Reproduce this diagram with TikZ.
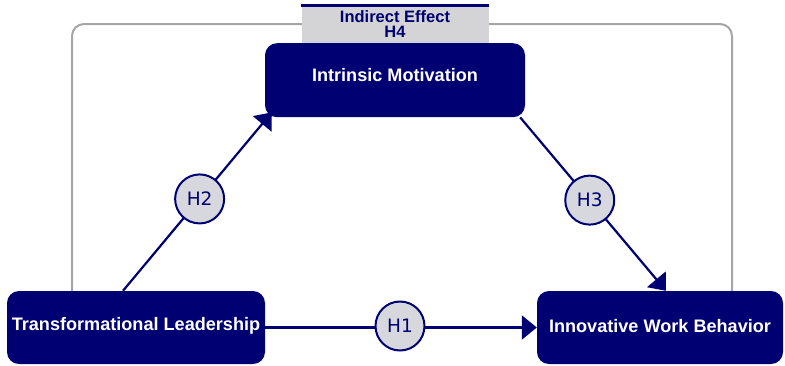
\documentclass[tikz,border=0pt]{standalone}
\usepackage{fontspec}
\setmainfont{Liberation Sans}
\newfontfamily\hypfont{DejaVu Sans}
\usetikzlibrary{arrows.meta,calc}
\definecolor{navy}{RGB}{0,0,115}
\definecolor{framegray}{RGB}{165,165,165}
\definecolor{panelgray}{RGB}{212,212,214}
\definecolor{circlegray}{RGB}{215,215,222}
\begin{document}
\begin{tikzpicture}[x=1pt,y=-1pt,
  construct/.style={draw=none,fill=navy,rounded corners=12pt,text=white,
    font=\fontsize{18.1}{20}\selectfont\bfseries,inner sep=0pt,align=center},
  hyp/.style={circle,draw=navy,line width=2pt,fill=circlegray,text=navy,
    minimum size=49pt,inner sep=0pt,font=\hypfont\fontsize{18.5}{20}\selectfont},
  conn/.style={draw=navy,line width=2.2pt,-{Triangle[length=15pt,width=24pt]}},
  frame/.style={draw=framegray,line width=2pt,rounded corners=12pt}]
\useasboundingbox (0,0) rectangle (785,365);

% constructs
\node[construct,minimum width=258pt,minimum height=73pt] (TL) at (136,327.5) {\raisebox{1.5pt}[\height][\depth]{Transformational Leadership}};
\node[construct,minimum width=246pt,minimum height=73pt] (IWB) at (660,327.5) {\raisebox{1.5pt}[\height][\depth]{Innovative Work Behavior}};
\node[construct,minimum width=260pt,minimum height=74pt,anchor=north] (IM) at (395,43) {\raisebox{5pt}[\height][\depth]{Intrinsic Motivation}};

% indirect effect frame linking the two outer constructs
\coordinate (FL) at ([xshift=-64pt]TL.north);
\coordinate (FR) at ([xshift=72pt]IWB.north);
\draw[frame] (FL) -- (FL |- 0,24) -- (FR |- 0,24) -- (FR);

% indirect effect label
\node[fill=panelgray,minimum width=187pt,minimum height=37pt,inner sep=0pt,anchor=south,
  text=navy,font=\fontsize{16.5}{15}\selectfont\bfseries,align=center] (IE) at (IM.north) {Indirect Effect\\H4};
\draw[navy,line width=2.5pt] (IE.north west) -- (IE.north east);

% paths
\coordinate (a2s) at ([xshift=-13pt]TL.north);
\coordinate (a2e) at ([xshift=7pt,yshift=5pt]IM.south west);
\coordinate (a3s) at ([xshift=-5pt]IM.south east);
\coordinate (a3e) at ([xshift=6pt]IWB.north);
\draw[conn] (a2s) -- (a2e);
\draw[conn] (a3s) -- (a3e);
\draw[conn] (TL.east) -- (IWB.west);

% hypothesis markers
\node[hyp] (H1) at (400,326) {H1};
\node[hyp] (H2) at ($(a2s)!0.515!(a2e)$) {H2};
\node[hyp] (H3) at ($(a3s)!0.477!(a3e)$) {H3};
\end{tikzpicture}
\end{document}
